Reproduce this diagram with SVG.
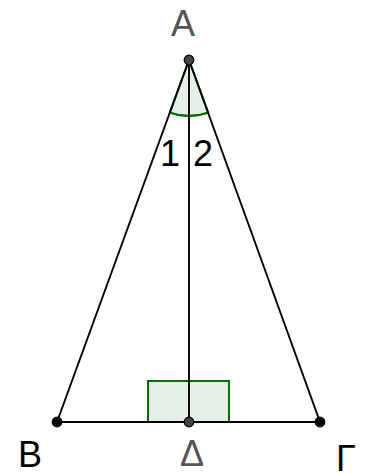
<svg xmlns="http://www.w3.org/2000/svg" width="369" height="474" viewBox="0 0 369 474">
<style>
.seg{stroke:#000;stroke-width:1.9;fill:none}
.mark{fill:#006400;fill-opacity:0.1;stroke:#007000;stroke-width:2}
.lbl{font-family:"Liberation Sans",Arial,sans-serif;font-size:36px}
.pt{stroke:#000;stroke-width:1.2}
</style>
<rect width="369" height="474" fill="#fff"/>
<g id="marks">
<path class="mark" d="M189,60 L169.8,112.6 A56,56 0 0 0 208.2,112.6 Z" stroke="none"/>
<path d="M169.8,112.6 A56,56 0 0 0 208.2,112.6" fill="none" stroke="#007000" stroke-width="2"/>
<rect class="mark" x="148" y="381" width="81" height="41"/>
</g>
<g id="connectors">
<line class="seg" x1="189" y1="60" x2="57" y2="422"/>
<line class="seg" x1="189" y1="60" x2="320" y2="422"/>
<line class="seg" x1="57" y1="422" x2="320" y2="422"/>
<line class="seg" x1="189" y1="60" x2="189" y2="422" stroke="#222"/>
</g>
<g id="A"><circle class="pt" cx="189" cy="60" r="4.8" fill="#444"/><text class="lbl" x="183" y="36" text-anchor="middle" fill="#555">A</text></g>
<g id="B"><circle class="pt" cx="57" cy="422" r="4.8" fill="#000"/><text class="lbl" x="30" y="467" text-anchor="middle" fill="#000">B</text></g>
<g id="Delta"><circle class="pt" cx="189" cy="422" r="4.8" fill="#444"/><text class="lbl" x="192" y="466" text-anchor="middle" fill="#555">Δ</text></g>
<g id="Gamma"><circle class="pt" cx="320" cy="422" r="4.8" fill="#000"/><text class="lbl" x="346" y="471" text-anchor="middle" fill="#000">Γ</text></g>
<g id="labels"><text class="lbl" x="170" y="166" text-anchor="middle" fill="#000">1</text><text class="lbl" x="203" y="166" text-anchor="middle" fill="#000">2</text></g>
</svg>
